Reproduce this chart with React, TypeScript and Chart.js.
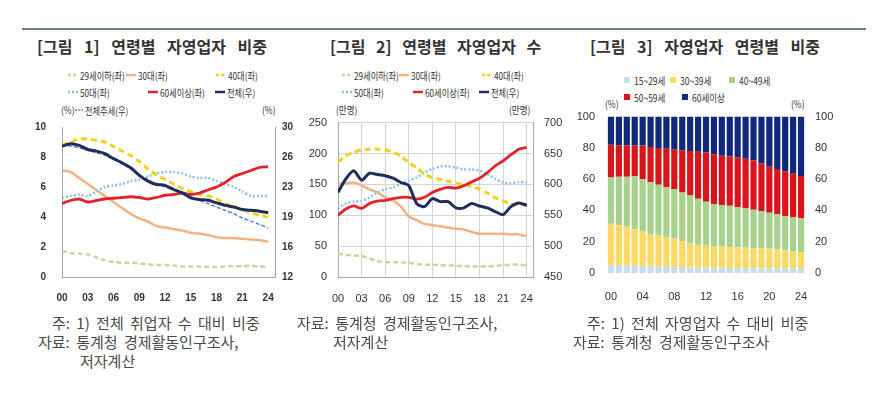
import React, { useEffect, useRef } from "react";
import { Chart, registerables } from "chart.js";
Chart.register(...registerables);

// ---------- DATA ----------
const years = [2000, 2001, 2002, 2003, 2004, 2005, 2006, 2007, 2008, 2009, 2010, 2011, 2012, 2013, 2014, 2015, 2016, 2017, 2018, 2019, 2020, 2021, 2022, 2023, 2024];
const xTickYears = [2000, 2003, 2006, 2009, 2012, 2015, 2018, 2021, 2024];

// Figure 1: share of self-employed by age (% of total employed)
const f1Under29 = [1.75, 1.6, 1.55, 1.5, 1.3, 1.1, 1.0, 0.95, 0.95, 0.9, 0.85, 0.8, 0.8, 0.75, 0.7, 0.7, 0.7, 0.68, 0.66, 0.7, 0.72, 0.73, 0.75, 0.7, 0.68];
const f1Age30s = [7.1, 7.0, 6.6, 6.2, 5.8, 5.4, 5.0, 4.6, 4.2, 3.9, 3.7, 3.4, 3.3, 3.2, 3.1, 2.95, 2.9, 2.8, 2.65, 2.6, 2.6, 2.55, 2.5, 2.45, 2.35];
const f1Age40s = [8.8, 9.0, 9.2, 9.2, 9.1, 9.0, 8.7, 8.4, 8.1, 7.7, 7.2, 6.8, 6.5, 6.2, 5.9, 5.7, 5.5, 5.4, 5.2, 4.9, 4.7, 4.5, 4.3, 4.1, 4.0];
const f1Age50s = [5.3, 5.4, 5.5, 5.4, 5.7, 6.0, 6.1, 6.2, 6.4, 6.5, 6.7, 6.9, 7.0, 7.0, 6.9, 6.7, 6.6, 6.6, 6.4, 6.2, 6.0, 5.7, 5.4, 5.4, 5.4];
const f1Over60 = [4.9, 5.1, 5.2, 5.0, 5.1, 5.2, 5.25, 5.3, 5.35, 5.3, 5.2, 5.3, 5.45, 5.5, 5.6, 5.5, 5.6, 5.8, 6.0, 6.3, 6.7, 6.9, 7.1, 7.3, 7.35];
const f1Total = [27.7, 28.0, 27.8, 27.3, 27.1, 26.8, 26.2, 25.7, 25.1, 24.2, 23.5, 23.1, 23.0, 22.5, 22.1, 21.5, 21.3, 21.2, 20.9, 20.6, 20.4, 20.1, 20.0, 19.9, 19.7];
const f1Trend = [27.8, 27.7, 27.5, 27.2, 26.9, 26.6, 26.1, 25.6, 25.0, 24.3, 23.7, 23.2, 22.8, 22.4, 22.0, 21.6, 21.2, 20.8, 20.4, 20.0, 19.6, 19.1, 18.7, 18.3, 17.9];
const f1RightTicks = [12, 15.6, 19.2, 22.8, 26.4, 30];

// Figure 2: number of self-employed by age (10k persons)
const f2Under29 = [38, 36, 35, 34, 30, 26, 24, 24, 24, 23, 21, 20, 20, 19, 19, 18, 18, 17, 17, 17, 18, 19, 20, 20, 19];
const f2Age30s = [150, 152, 153, 148, 142, 137, 129, 124, 114, 98, 92, 86, 84, 82, 80, 78, 77, 73, 70, 70, 70, 70, 69, 69, 66];
const f2Age40s = [186, 196, 202, 206, 207, 207, 206, 202, 196, 185, 177, 166, 161, 158, 155, 152, 149, 147, 142, 136, 128, 123, 119, 117, 117];
const f2Age50s = [111, 119, 122, 123, 129, 137, 142, 145, 151, 156, 161, 169, 175, 179, 179, 177, 174, 174, 172, 166, 159, 153, 152, 154, 153];
const f2Over60 = [100, 110, 115, 111, 119, 123, 124, 127, 129, 129, 126, 129, 137, 142, 145, 144, 148, 154, 160, 169, 180, 188, 198, 207, 210];
const f2Total = [587, 609, 622, 607, 618, 616, 614, 610, 603, 598, 569, 564, 577, 572, 572, 562, 562, 569, 565, 562, 556, 551, 564, 570, 566];

// Figure 3: composition of self-employed by age (%)
const f3Labels = ["00", "01", "02", "03", "04", "05", "06", "07", "08", "09", "10", "11", "12", "13", "14", "15", "16", "17", "18", "19", "20", "21", "22", "23", "24"];
const f3Age15to29 = [5.0, 4.8, 4.6, 4.5, 4.4, 4.2, 4.0, 3.8, 3.7, 3.6, 3.5, 3.4, 3.4, 3.3, 3.3, 3.2, 3.2, 3.1, 3.1, 3.1, 3.0, 3.0, 3.0, 3.0, 3.0];
const f3Age30to39 = [26.5, 25.7, 24.9, 23.5, 22.1, 20.8, 20.0, 19.2, 18.3, 16.9, 15.5, 14.6, 14.1, 13.9, 13.7, 13.5, 13.3, 13.1, 12.9, 12.6, 12.5, 12.0, 11.5, 11.0, 10.5];
const f3Age40to49 = [29.5, 31.0, 32.0, 34.0, 33.5, 33.0, 32.5, 32.0, 31.5, 31.0, 30.5, 29.5, 28.0, 26.8, 26.5, 26.3, 25.5, 25.3, 24.5, 23.8, 23.0, 22.5, 22.0, 21.5, 21.5];
const f3Age50to59 = [21.0, 20.0, 20.0, 19.5, 21.5, 22.5, 23.5, 24.5, 25.5, 27.0, 28.5, 30.0, 31.5, 32.0, 31.5, 31.5, 32.0, 31.5, 31.5, 30.5, 29.5, 29.0, 28.5, 28.0, 27.0];
const f3Over60 = [18.0, 18.5, 18.5, 18.5, 18.5, 19.5, 20.0, 20.5, 21.0, 21.5, 22.0, 22.5, 23.0, 24.0, 25.0, 25.5, 26.0, 27.0, 28.0, 30.0, 32.0, 33.5, 35.0, 36.5, 38.0];
const f3YTicks = [0, 20, 40, 60, 80, 100];

// ---------- STYLE ----------
const C = {
  u29: "#c6d6a4",
  a30: "#f4b183",
  a40: "#f5cf1a",
  a50: "#8cc2e8",
  o60: "#e0242b",
  total: "#1f2d5e",
  trend: "#4a72c4",
  b1: "#c7dcef",
  b2: "#ffd966",
  b3: "#a9d18e",
  b4: "#d9141b",
  b5: "#10297a",
};
const KR = '"Noto Sans CJK KR", "Noto Sans", sans-serif';
const NUM = '"Liberation Sans Narrow", "Liberation Sans", Arial, sans-serif';

function pts(vals: number[]) {
  return years.map((yr, i) => ({ x: yr, y: vals[i] }));
}

function ds(label: string, vals: number[], color: string, dash: number[], width: number, axis: string, order: number) {
  return {
    label,
    data: pts(vals),
    borderColor: color,
    backgroundColor: color,
    borderDash: dash,
    borderWidth: width,
    pointRadius: 0,
    yAxisID: axis,
    fill: false,
    tension: 0.25,
    order,
  };
}

function xAxis(grid: boolean, font: any, color: string) {
  return {
    type: "linear",
    min: 2000,
    max: 2024.8,
    afterBuildTicks: (s: any) => {
      s.ticks = xTickYears.map((v) => ({ value: v }));
    },
    afterFit: (s: any) => {
      s.height = 28;
    },
    ticks: {
      autoSkip: false,
      maxRotation: 0,
      padding: 15,
      font,
      color,
      callback: (v: any) => String(v).slice(2),
    },
    grid: { display: grid, color: "#d4d4d4", drawTicks: false, lineWidth: 1 },
    border: { display: true, color: "#a6a6a6" },
  };
}

function useChart(make: (cv: HTMLCanvasElement) => Chart) {
  const ref = useRef<HTMLCanvasElement | null>(null);
  useEffect(() => {
    if (!ref.current) return;
    const ch = make(ref.current);
    return () => ch.destroy();
  }, []);
  return ref;
}

function Fig1() {
  const ref = useChart((cv) => {
    const f = { family: NUM, size: 10, weight: "bold" };
    return new Chart(cv, {
      type: "line",
      data: {
        datasets: [
          ds("전체(우)", f1Total, C.total, [], 3, "y1", 0),
          ds("전체추세(우)", f1Trend, C.trend, [4, 2], 1.2, "y1", 1),
          ds("60세이상(좌)", f1Over60, C.o60, [], 2.8, "y", 2),
          ds("40대(좌)", f1Age40s, C.a40, [6, 4], 3, "y", 3),
          ds("50대(좌)", f1Age50s, C.a50, [2, 2], 2.5, "y", 4),
          ds("30대(좌)", f1Age30s, C.a30, [], 2.5, "y", 5),
          ds("29세이하(좌)", f1Under29, C.u29, [5, 3], 2.5, "y", 6),
        ] as any,
      },
      options: {
        responsive: false,
        animation: false,
        layout: { padding: { top: 15, left: 0, right: 0, bottom: 0 } },
        plugins: { legend: { display: false }, tooltip: { enabled: false } },
        scales: {
          x: xAxis(false, f, "#333") as any,
          y: {
            position: "left",
            min: 0,
            max: 10,
            afterFit: (s: any) => {
              s.width = 42;
            },
            ticks: { stepSize: 2, padding: 16, font: f, color: "#333" },
            grid: { display: false, drawTicks: false },
            border: { display: true, color: "#a6a6a6" },
          },
          y1: {
            position: "right",
            min: 12,
            max: 30,
            afterBuildTicks: (s: any) => {
              s.ticks = f1RightTicks.map((v) => ({ value: v }));
            },
            afterFit: (s: any) => {
              s.width = 35;
            },
            ticks: { padding: 7, font: f, color: "#333", callback: (v: any) => String(Math.round(Number(v))) },
            grid: { display: false, drawTicks: false },
            border: { display: true, color: "#a6a6a6" },
          },
        },
      } as any,
    });
  });
  return <canvas ref={ref} width={290} height={200} style={{ position: "absolute", left: 20, top: 105, width: 290, height: 200 }} />;
}

function Fig2() {
  const ref = useChart((cv) => {
    const f = { family: NUM, size: 11 };
    return new Chart(cv, {
      type: "line",
      data: {
        datasets: [
          ds("전체(우)", f2Total, C.total, [], 3, "y1", 0),
          ds("60세이상(좌)", f2Over60, C.o60, [], 2.8, "y", 1),
          ds("40대(좌)", f2Age40s, C.a40, [6, 4], 3, "y", 2),
          ds("50대(좌)", f2Age50s, C.a50, [2, 2], 2.5, "y", 3),
          ds("30대(좌)", f2Age30s, C.a30, [], 2.5, "y", 4),
          ds("29세이하(좌)", f2Under29, C.u29, [5, 3], 2.5, "y", 5),
        ] as any,
      },
      options: {
        responsive: false,
        animation: false,
        layout: { padding: { top: 15, left: 0, right: 0, bottom: 0 } },
        plugins: { legend: { display: false }, tooltip: { enabled: false } },
        scales: {
          x: xAxis(true, f, "#333") as any,
          y: {
            position: "left",
            min: 0,
            max: 250,
            afterFit: (s: any) => {
              s.width = 43;
            },
            ticks: { stepSize: 50, padding: 11, font: f, color: "#333" },
            grid: { display: true, color: "#d4d4d4", drawTicks: false },
            border: { display: true, color: "#a6a6a6" },
          },
          y1: {
            position: "right",
            min: 450,
            max: 700,
            afterFit: (s: any) => {
              s.width = 42;
            },
            ticks: { stepSize: 50, padding: 11, font: f, color: "#333" },
            grid: { display: false, drawTicks: false },
            border: { display: true, color: "#a6a6a6" },
          },
        },
      } as any,
    });
  });
  return <canvas ref={ref} width={280} height={200} style={{ position: "absolute", left: 295, top: 105, width: 280, height: 200 }} />;
}

function Fig3() {
  const ref = useChart((cv) => {
    const f = { family: NUM, size: 11 };
    const bar = (label: string, vals: number[], color: string) => ({
      label,
      data: vals,
      backgroundColor: color,
      borderWidth: 0,
      barPercentage: 0.78,
      categoryPercentage: 1,
      stack: "s",
    });
    return new Chart(cv, {
      type: "bar",
      data: {
        labels: f3Labels,
        datasets: [
          bar("15~29세", f3Age15to29, C.b1),
          bar("30~39세", f3Age30to39, C.b2),
          bar("40~49세", f3Age40to49, C.b3),
          bar("50~59세", f3Age50to59, C.b4),
          bar("60세이상", f3Over60, C.b5),
        ] as any,
      },
      options: {
        responsive: false,
        animation: false,
        layout: { padding: { top: 15, left: 0, right: 0, bottom: 0 } },
        plugins: { legend: { display: false }, tooltip: { enabled: false } },
        scales: {
          x: {
            stacked: true,
            afterFit: (s: any) => {
              s.height = 35;
            },
            ticks: {
              autoSkip: false,
              maxRotation: 0,
              padding: 17,
              font: f,
              color: "#333",
              callback: (_v: any, i: number) => (i % 4 === 0 ? f3Labels[i] : ""),
            },
            grid: { display: false, drawTicks: false },
            border: { display: false },
          },
          y: {
            stacked: true,
            position: "left",
            min: 0,
            max: 100,
            afterBuildTicks: (s: any) => {
              s.ticks = f3YTicks.map((v) => ({ value: v }));
            },
            afterFit: (s: any) => {
              s.width = 47;
            },
            ticks: { padding: 12, font: f, color: "#333" },
            grid: { display: false, drawTicks: false },
            border: { display: false },
          },
          y1: {
            position: "right",
            min: 0,
            max: 100,
            afterBuildTicks: (s: any) => {
              s.ticks = f3YTicks.map((v) => ({ value: v }));
            },
            afterFit: (s: any) => {
              s.width = 40;
            },
            ticks: { padding: 10, font: f, color: "#333" },
            grid: { display: false, drawTicks: false },
            border: { display: false },
          },
        },
      } as any,
    });
  });
  return <canvas ref={ref} width={285} height={210} style={{ position: "absolute", left: 560, top: 98, width: 285, height: 210 }} />;
}

// ---------- HTML TEXT PIECES ----------
function Txt(p: { x: number; y: number; size: number; text: string; bold?: boolean; color?: string; ws?: number; sx?: number }) {
  return (
    <div
      style={{
        position: "absolute",
        left: p.x,
        top: p.y - 10,
        height: 20,
        lineHeight: "20px",
        fontFamily: KR,
        fontSize: p.size,
        fontWeight: p.bold ? 700 : 400,
        color: p.color || "#333",
        wordSpacing: p.ws || 0,
        whiteSpace: "nowrap",
        transform: p.sx ? `scaleX(${p.sx})` : undefined,
        transformOrigin: "left center",
      }}
    >
      {p.text}
    </div>
  );
}

function LineKey(p: { x: number; y: number; color: string; dash: string; label: string; w?: number; lw?: number }) {
  const w = p.w || 10;
  return (
    <div style={{ position: "absolute", left: p.x, top: p.y - 8, height: 16, display: "flex", alignItems: "center", whiteSpace: "nowrap" }}>
      <svg width={w} height={6} style={{ display: "block" }}>
        <line x1={0} y1={3} x2={w} y2={3} stroke={p.color} strokeWidth={p.lw || 2.5} strokeDasharray={p.dash} />
      </svg>
      <span
        style={{
          display: "inline-block",
          marginLeft: 2,
          fontFamily: KR,
          fontSize: 10,
          color: "#333",
          transform: "scaleX(0.82)",
          transformOrigin: "left center",
        }}
      >
        {p.label}
      </span>
    </div>
  );
}

function BoxKey(p: { x: number; y: number; color: string; label: string }) {
  return (
    <div style={{ position: "absolute", left: p.x, top: p.y - 8, height: 16, display: "flex", alignItems: "center", whiteSpace: "nowrap" }}>
      <span style={{ display: "inline-block", width: 6, height: 6, background: p.color }} />
      <span
        style={{
          display: "inline-block",
          marginLeft: 4,
          fontFamily: KR,
          fontSize: 10,
          color: "#333",
          transform: "scaleX(0.85)",
          transformOrigin: "left center",
        }}
      >
        {p.label}
      </span>
    </div>
  );
}

export default function App() {
  return (
    <div style={{ position: "absolute", left: 0, top: 0, width: 878, height: 396, background: "#fff", overflow: "hidden" }}>
      <div style={{ position: "absolute", left: 22, top: 28, width: 844, height: 2, background: "#6f7f94" }} />

      <Txt x={37} y={46} size={16} bold text="[그림 1] 연령별 자영업자 비중" ws={8} />
      <Txt x={330} y={46} size={16} bold text="[그림 2] 연령별 자영업자 수" ws={7} />
      <Txt x={590} y={46} size={16} bold text="[그림 3] 자영업자 연령별 비중" ws={8} />

      {/* Figure 1 legend */}
      <LineKey x={68} y={75} color={C.u29} dash="3 2" label="29세이하(좌)" />
      <LineKey x={126} y={75} color={C.a30} dash="" label="30대(좌)" />
      <LineKey x={216} y={75} color={C.a40} dash="3 2" label="40대(좌)" />
      <LineKey x={68} y={92} color={C.a50} dash="2 2" label="50대(좌)" />
      <LineKey x={148} y={92} color={C.o60} dash="" label="60세이상(좌)" />
      <LineKey x={215} y={92} color={C.total} dash="" label="전체(우)" />
      <Txt x={61} y={110} size={10} text="(%)" sx={0.85} />
      <LineKey x={75} y={110} color={C.trend} dash="2 1.5" lw={1.5} w={8} label="전체추세(우)" />
      <Txt x={262} y={110} size={10} text="(%)" sx={0.85} />

      {/* Figure 2 legend */}
      <LineKey x={342} y={75} color={C.u29} dash="3 2" label="29세이하(좌)" />
      <LineKey x={399} y={75} color={C.a30} dash="" label="30대(좌)" />
      <LineKey x={482} y={75} color={C.a40} dash="3 2" label="40대(좌)" />
      <LineKey x={342} y={92} color={C.a50} dash="2 2" label="50대(좌)" />
      <LineKey x={413} y={92} color={C.o60} dash="" label="60세이상(좌)" />
      <LineKey x={479} y={92} color={C.total} dash="" label="전체(우)" />
      <Txt x={336} y={110} size={10} text="(만명)" sx={0.85} />
      <Txt x={509} y={110} size={10} text="(만명)" sx={0.85} />

      {/* Figure 3 legend */}
      <BoxKey x={624} y={80} color={C.b1} label="15~29세" />
      <BoxKey x={670} y={80} color={C.b2} label="30~39세" />
      <BoxKey x={729} y={80} color={C.b3} label="40~49세" />
      <BoxKey x={624} y={97} color={C.b4} label="50~59세" />
      <BoxKey x={682} y={97} color={C.b5} label="60세이상" />
      <Txt x={605} y={104} size={10} text="(%)" sx={0.85} />
      <Txt x={791} y={104} size={10} text="(%)" sx={0.85} />

      <Fig1 />
      <Fig2 />
      <Fig3 />

      {/* Notes */}
      <Txt x={52} y={323} size={15} color="#4a4a4a" ws={3} text="주: 1) 전체 취업자 수 대비 비중" />
      <Txt x={38} y={342} size={15} color="#4a4a4a" ws={3} text="자료: 통계청 경제활동인구조사," />
      <Txt x={80} y={361} size={15} color="#4a4a4a" ws={3} text="저자계산" />
      <Txt x={297} y={323} size={15} color="#4a4a4a" ws={3} text="자료: 통계청 경제활동인구조사," />
      <Txt x={333} y={342} size={15} color="#4a4a4a" ws={3} text="저자계산" />
      <Txt x={587} y={323} size={15} color="#4a4a4a" ws={3} text="주: 1) 전체 자영업자 수 대비 비중" />
      <Txt x={573} y={342} size={15} color="#4a4a4a" ws={3} text="자료: 통계청 경제활동인구조사" />
    </div>
  );
}
